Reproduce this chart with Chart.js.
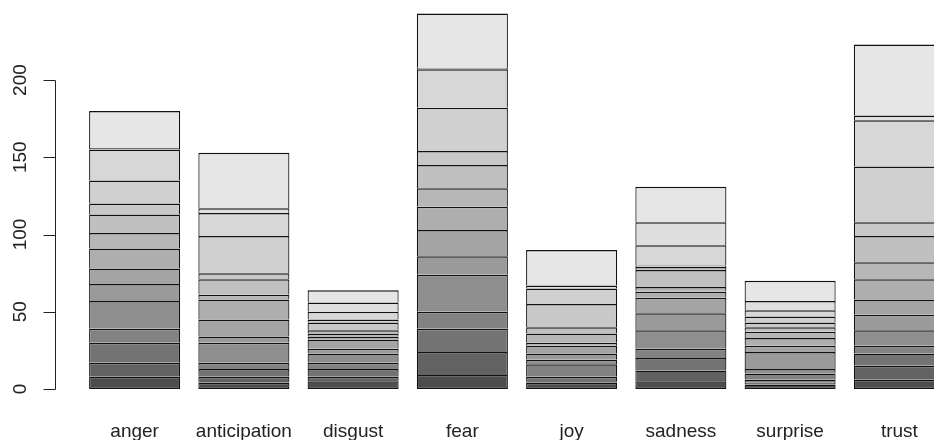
<!DOCTYPE html>
<html><head><meta charset="utf-8">
<script src="https://cdn.jsdelivr.net/npm/chart.js@4/dist/chart.umd.min.js"></script>
<style>html,body{margin:0;padding:0;overflow:hidden;background:#fff}</style>
</head><body>
<canvas id="c" width="960" height="440"></canvas>
<script>
const categories = ['anger','anticipation','disgust','fear','joy','sadness','surprise','trust'];
// segment heights per emotion, bottom (row 1) to top (row 15)
const anger        = [8, 9, 13, 9, 18, 11, 10, 13, 10, 12, 7, 15, 20, 1, 24];
const anticipation = [4, 4, 5, 4, 13, 4, 11, 13, 3, 10, 4, 24, 15, 3, 36];
const disgust      = [5, 3, 5, 4, 6, 3, 6, 2, 2, 2, 5, 2, 5, 6, 8];
const fear         = [9, 15, 15, 11, 24, 12, 17, 15, 12, 15, 9, 28, 25, 1, 35];
const joy          = [4, 1, 3, 8, 3, 4, 5, 2, 6, 4, 15, 10, 0, 2, 23];
const sadness      = [5, 7, 8, 6, 12, 11, 10, 4, 3, 11, 2, 1, 13, 15, 23];
const surprise     = [3, 1, 2, 4, 3, 11, 4, 5, 4, 3, 3, 4, 4, 6, 13];
const trust        = [6, 9, 8, 5, 10, 10, 10, 13, 11, 17, 9, 36, 30, 3, 46];
const yTicks = [0, 50, 100, 150, 200];

const byCategory = [anger, anticipation, disgust, fear, joy, sadness, surprise, trust];
const nRows = anger.length;

function grayColors(n, start, end, gamma) {
  const a = Math.pow(start, gamma), b = Math.pow(end, gamma);
  const out = [];
  for (let i = 0; i < n; i++) {
    const v = Math.pow(a + (b - a) * i / (n - 1), 1 / gamma);
    const c = Math.round(v * 255);
    out.push(`rgb(${c},${c},${c})`);
  }
  return out;
}
const cols = grayColors(nRows, 0.3, 0.9, 2.2);

const datasets = [];
for (let r = 0; r < nRows; r++) {
  datasets.push({
    label: 'row ' + (r + 1),
    data: byCategory.map(a => a[r]),
    backgroundColor: cols[r],
    borderColor: '#111',
    borderWidth: {top: 1.5, left: 1.2, right: 1.2, bottom: r === 0 ? 1.5 : 0},
    borderSkipped: false,
    barPercentage: 1,
    categoryPercentage: 1 / 1.2
  });
}

const axisPlugin = {
  id: 'rAxis',
  afterDraw(chart) {
    const y = chart.scales.y, ctx = chart.ctx;
    const x = 55.5;
    ctx.save();
    ctx.strokeStyle = '#222';
    ctx.lineWidth = 1;
    ctx.beginPath();
    const p0 = Math.round(y.getPixelForValue(yTicks[0])) + 0.5;
    const p1 = Math.round(y.getPixelForValue(yTicks[yTicks.length - 1])) + 0.5;
    ctx.moveTo(x, p0); ctx.lineTo(x, p1);
    yTicks.forEach(v => {
      const p = Math.round(y.getPixelForValue(v)) + 0.5;
      ctx.moveTo(x - 12, p); ctx.lineTo(x, p);
    });
    ctx.stroke();
    ctx.restore();
  }
};

const font = {family: "'Liberation Sans', Arial, sans-serif", size: 19};
new Chart(document.getElementById('c'), {
  type: 'bar',
  data: {labels: categories, datasets},
  options: {
    responsive: false,
    animation: false,
    layout: {padding: {top: 0, right: 6, left: 0, bottom: 0}},
    plugins: {legend: {display: false}, tooltip: {enabled: false}},
    scales: {
      x: {
        stacked: true,
        grid: {display: false, drawTicks: false},
        border: {display: false},
        ticks: {font, color: '#222', padding: 16},
        afterFit(s) { s.height = 36; s.paddingLeft = 0; s.paddingRight = 0; }
      },
      y: {
        stacked: true,
        min: -9.7,
        max: 251.8,
        grid: {display: false, drawTicks: false},
        border: {display: false},
        afterBuildTicks(s) { s.ticks = yTicks.map(v => ({value: v})); },
        afterFit(s) { s.width = 80; s.paddingTop = 0; s.paddingBottom = 0; },
        ticks: {font, color: '#222', minRotation: 90, maxRotation: 90, padding: 43, crossAlign: 'center'}
      }
    }
  },
  plugins: [axisPlugin]
});
</script>
</body></html>
